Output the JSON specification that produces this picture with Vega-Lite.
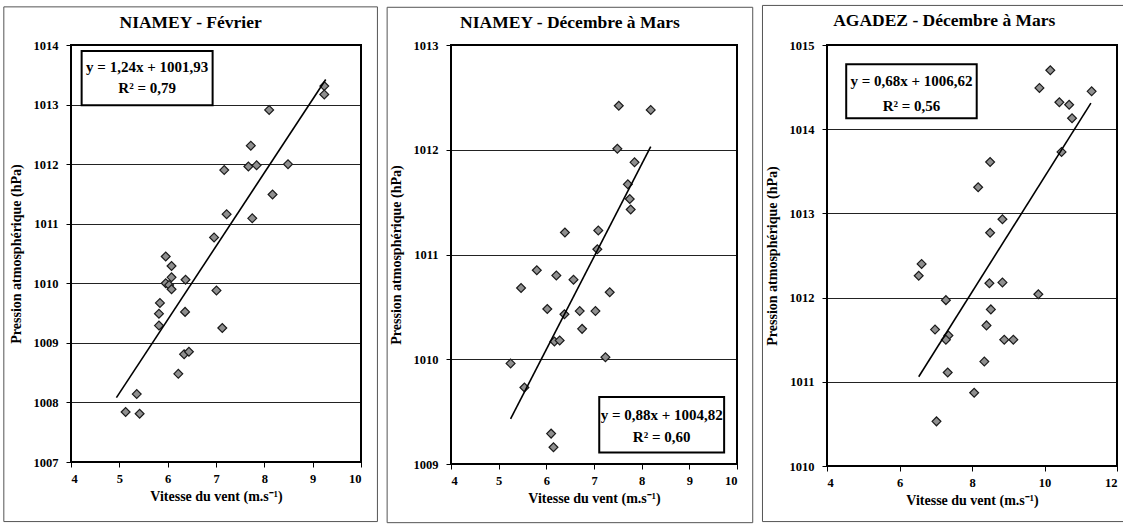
{
  "$schema": "https://vega.github.io/schema/vega-lite/v6.json",
  "background": "white",
  "padding": {"left": 3, "top": 4, "right": 0, "bottom": 0},
  "autosize": {"type": "pad"},
  "bounds": "flush",
  "spacing": 90,
  "config": {
    "font": "Liberation Serif",
    "view": {"stroke": null},
    "axis": {"domain": false, "labelFont": "Liberation Serif", "labelFontSize": 12.5, "labelFontWeight": "bold", "labelColor": "#000", "titleFont": "Liberation Serif", "titleFontSize": 14, "titleFontWeight": "bold", "titleColor": "#000", "tickColor": "#000", "tickSize": 5, "gridColor": "#222", "gridWidth": 1, "gridOpacity": 1},
    "axisX": {"labelPadding": 5, "titlePadding": 5, "grid": false},
    "axisY": {"labelPadding": 8, "titlePadding": 10, "grid": true},
    "title": {"font": "Liberation Serif", "fontSize": 17.5, "fontWeight": "bold", "color": "#000", "anchor": "middle", "frame": "bounds", "offset": -25}
  },
  "datasets": {
    "niamey_fev": [
      {"x": 9.24, "y": 1013.31}, {"x": 9.24, "y": 1013.17}, {"x": 8.10, "y": 1012.91}, {"x": 7.72, "y": 1012.31},
      {"x": 7.67, "y": 1011.96}, {"x": 7.84, "y": 1011.98}, {"x": 8.49, "y": 1012.00}, {"x": 7.17, "y": 1011.90},
      {"x": 8.17, "y": 1011.49}, {"x": 7.22, "y": 1011.16}, {"x": 7.75, "y": 1011.09}, {"x": 6.96, "y": 1010.77},
      {"x": 5.96, "y": 1010.45}, {"x": 6.08, "y": 1010.29}, {"x": 6.08, "y": 1010.10}, {"x": 5.96, "y": 1010.00},
      {"x": 6.03, "y": 1009.97}, {"x": 6.08, "y": 1009.90}, {"x": 6.37, "y": 1010.06}, {"x": 7.01, "y": 1009.88},
      {"x": 5.84, "y": 1009.67}, {"x": 5.82, "y": 1009.49}, {"x": 6.36, "y": 1009.52}, {"x": 5.82, "y": 1009.29},
      {"x": 7.13, "y": 1009.25}, {"x": 6.34, "y": 1008.81}, {"x": 6.44, "y": 1008.85}, {"x": 6.22, "y": 1008.48},
      {"x": 5.36, "y": 1008.14}, {"x": 5.13, "y": 1007.84}, {"x": 5.42, "y": 1007.81}
    ],
    "niamey_dm": [
      {"x": 7.52, "y": 1012.42}, {"x": 8.19, "y": 1012.38}, {"x": 7.49, "y": 1012.01}, {"x": 7.85, "y": 1011.88},
      {"x": 7.71, "y": 1011.67}, {"x": 7.75, "y": 1011.53}, {"x": 7.77, "y": 1011.43}, {"x": 6.39, "y": 1011.21},
      {"x": 7.09, "y": 1011.23}, {"x": 7.07, "y": 1011.05}, {"x": 5.80, "y": 1010.85}, {"x": 6.21, "y": 1010.80},
      {"x": 6.57, "y": 1010.76}, {"x": 5.47, "y": 1010.68}, {"x": 7.33, "y": 1010.64}, {"x": 6.02, "y": 1010.48},
      {"x": 6.70, "y": 1010.46}, {"x": 7.03, "y": 1010.46}, {"x": 6.38, "y": 1010.43}, {"x": 6.75, "y": 1010.29},
      {"x": 6.17, "y": 1010.17}, {"x": 6.28, "y": 1010.18}, {"x": 7.24, "y": 1010.02}, {"x": 5.25, "y": 1009.96},
      {"x": 5.54, "y": 1009.73}, {"x": 6.10, "y": 1009.29}, {"x": 6.15, "y": 1009.16}
    ],
    "agadez_dm": [
      {"x": 10.16, "y": 1014.70}, {"x": 9.86, "y": 1014.49}, {"x": 11.30, "y": 1014.45}, {"x": 10.41, "y": 1014.32},
      {"x": 10.68, "y": 1014.29}, {"x": 10.76, "y": 1014.13}, {"x": 10.47, "y": 1013.73}, {"x": 8.50, "y": 1013.61},
      {"x": 8.17, "y": 1013.31}, {"x": 8.84, "y": 1012.93}, {"x": 8.50, "y": 1012.77}, {"x": 6.61, "y": 1012.40},
      {"x": 6.53, "y": 1012.26}, {"x": 8.48, "y": 1012.17}, {"x": 8.84, "y": 1012.18}, {"x": 9.83, "y": 1012.04},
      {"x": 7.28, "y": 1011.97}, {"x": 8.52, "y": 1011.86}, {"x": 6.98, "y": 1011.62}, {"x": 8.40, "y": 1011.67},
      {"x": 7.35, "y": 1011.55}, {"x": 7.28, "y": 1011.50}, {"x": 8.89, "y": 1011.50}, {"x": 9.14, "y": 1011.50},
      {"x": 8.34, "y": 1011.24}, {"x": 7.33, "y": 1011.11}, {"x": 8.06, "y": 1010.87}, {"x": 7.02, "y": 1010.53}
    ],
    "fit_niamey_fev": [{"x": 4.94, "y": 1008.08}, {"x": 9.27, "y": 1013.42}],
    "fit_niamey_dm": [{"x": 5.25, "y": 1009.43}, {"x": 8.19, "y": 1012.03}],
    "fit_agadez_dm": [{"x": 6.53, "y": 1011.06}, {"x": 11.28, "y": 1014.31}],
    "one": [{"k": 1}]
  },
  "hconcat": [
    {
      "width": 290, "height": 417,
      "title": {"text": "NIAMEY - Février"},
      "layer": [
        {"data": {"name": "one"}, "mark": {"type": "rect", "filled": false, "stroke": "#555", "strokeWidth": 1, "clip": false},
         "encoding": {"x": {"datum": 2.61, "type": "quantitative"}, "x2": {"datum": 10.34}, "y": {"datum": 1014.64, "type": "quantitative"}, "y2": {"datum": 1006.0}}},
        {"data": {"name": "niamey_fev"}, "mark": {"type": "point", "shape": "diamond", "filled": true, "fill": "#8f8f8f", "stroke": "#1a1a1a", "strokeWidth": 1.2, "size": 78, "opacity": 1},
         "encoding": {
           "x": {"field": "x", "type": "quantitative", "scale": {"domain": [4, 10], "nice": false, "zero": false}, "axis": {"title": "Vitesse du vent (m.s⁻¹)", "values": [4, 5, 6, 7, 8, 9, 10]}},
           "y": {"field": "y", "type": "quantitative", "scale": {"domain": [1007, 1014], "nice": false, "zero": false}, "axis": {"title": "Pression atmosphérique (hPa)", "values": [1007, 1008, 1009, 1010, 1011, 1012, 1013, 1014], "format": "d"}}
         }},
        {"data": {"name": "one"}, "mark": {"type": "rect", "filled": false, "stroke": "#000", "strokeWidth": 2, "clip": false},
         "encoding": {"x": {"datum": 4, "type": "quantitative"}, "x2": {"datum": 10}, "y": {"datum": 1014, "type": "quantitative"}, "y2": {"datum": 1007}}},
        {"data": {"name": "fit_niamey_fev"}, "mark": {"type": "line", "color": "#000", "strokeWidth": 1.6},
         "encoding": {"x": {"field": "x", "type": "quantitative"}, "y": {"field": "y", "type": "quantitative"}}},
        {"data": {"name": "one"}, "mark": {"type": "rect", "fill": "white", "stroke": "#000", "strokeWidth": 2},
         "encoding": {"x": {"datum": 4.22, "type": "quantitative"}, "x2": {"datum": 6.93}, "y": {"datum": 1013.90, "type": "quantitative"}, "y2": {"datum": 1012.99}}},
        {"data": {"name": "one"}, "mark": {"type": "text", "text": "y = 1,24x + 1001,93", "font": "Liberation Serif", "fontSize": 15, "fontWeight": "bold", "align": "center", "baseline": "middle", "color": "#000"},
         "encoding": {"x": {"datum": 5.575, "type": "quantitative"}, "y": {"datum": 1013.63, "type": "quantitative"}}},
        {"data": {"name": "one"}, "mark": {"type": "text", "text": "R² = 0,79", "font": "Liberation Serif", "fontSize": 15, "fontWeight": "bold", "align": "center", "baseline": "middle", "color": "#000"},
         "encoding": {"x": {"datum": 5.575, "type": "quantitative"}, "y": {"datum": 1013.28, "type": "quantitative"}}}
      ]
    },
    {
      "width": 286, "height": 419,
      "title": {"text": "NIAMEY - Décembre à Mars"},
      "layer": [
        {"data": {"name": "one"}, "mark": {"type": "rect", "filled": false, "stroke": "#555", "strokeWidth": 1, "clip": false},
         "encoding": {"x": {"datum": 2.66, "type": "quantitative"}, "x2": {"datum": 10.33}, "y": {"datum": 1013.36, "type": "quantitative"}, "y2": {"datum": 1008.44}}},
        {"data": {"name": "niamey_dm"}, "mark": {"type": "point", "shape": "diamond", "filled": true, "fill": "#8f8f8f", "stroke": "#1a1a1a", "strokeWidth": 1.2, "size": 78, "opacity": 1},
         "encoding": {
           "x": {"field": "x", "type": "quantitative", "scale": {"domain": [4, 10], "nice": false, "zero": false}, "axis": {"title": "Vitesse du vent (m.s⁻¹)", "values": [4, 5, 6, 7, 8, 9, 10]}},
           "y": {"field": "y", "type": "quantitative", "scale": {"domain": [1009, 1013], "nice": false, "zero": false}, "axis": {"title": "Pression atmosphérique (hPa)", "values": [1009, 1010, 1011, 1012, 1013], "format": "d"}}
         }},
        {"data": {"name": "one"}, "mark": {"type": "rect", "filled": false, "stroke": "#000", "strokeWidth": 2, "clip": false},
         "encoding": {"x": {"datum": 4, "type": "quantitative"}, "x2": {"datum": 10}, "y": {"datum": 1013, "type": "quantitative"}, "y2": {"datum": 1009}}},
        {"data": {"name": "fit_niamey_dm"}, "mark": {"type": "line", "color": "#000", "strokeWidth": 1.6},
         "encoding": {"x": {"field": "x", "type": "quantitative"}, "y": {"field": "y", "type": "quantitative"}}},
        {"data": {"name": "one"}, "mark": {"type": "rect", "fill": "white", "stroke": "#000", "strokeWidth": 2},
         "encoding": {"x": {"datum": 7.11, "type": "quantitative"}, "x2": {"datum": 9.73}, "y": {"datum": 1009.64, "type": "quantitative"}, "y2": {"datum": 1009.11}}},
        {"data": {"name": "one"}, "mark": {"type": "text", "text": "y = 0,88x + 1004,82", "font": "Liberation Serif", "fontSize": 15, "fontWeight": "bold", "align": "center", "baseline": "middle", "color": "#000"},
         "encoding": {"x": {"datum": 8.42, "type": "quantitative"}, "y": {"datum": 1009.47, "type": "quantitative"}}},
        {"data": {"name": "one"}, "mark": {"type": "text", "text": "R² = 0,60", "font": "Liberation Serif", "fontSize": 15, "fontWeight": "bold", "align": "center", "baseline": "middle", "color": "#000"},
         "encoding": {"x": {"datum": 8.42, "type": "quantitative"}, "y": {"datum": 1009.26, "type": "quantitative"}}}
      ]
    },
    {
      "width": 290, "height": 421,
      "title": {"text": "AGADEZ - Décembre à Mars"},
      "layer": [
        {"data": {"name": "one"}, "mark": {"type": "rect", "filled": false, "stroke": "#555", "strokeWidth": 1, "clip": false},
         "encoding": {"x": {"datum": 2.22, "type": "quantitative"}, "x2": {"datum": 12.25}, "y": {"datum": 1015.47, "type": "quantitative"}, "y2": {"datum": 1009.34}}},
        {"data": {"name": "agadez_dm"}, "mark": {"type": "point", "shape": "diamond", "filled": true, "fill": "#8f8f8f", "stroke": "#1a1a1a", "strokeWidth": 1.2, "size": 78, "opacity": 1},
         "encoding": {
           "x": {"field": "x", "type": "quantitative", "scale": {"domain": [4, 12], "nice": false, "zero": false}, "axis": {"title": "Vitesse du vent (m.s⁻¹)", "values": [4, 6, 8, 10, 12]}},
           "y": {"field": "y", "type": "quantitative", "scale": {"domain": [1010, 1015], "nice": false, "zero": false}, "axis": {"title": "Pression atmosphérique (hPa)", "values": [1010, 1011, 1012, 1013, 1014, 1015], "format": "d"}}
         }},
        {"data": {"name": "one"}, "mark": {"type": "rect", "filled": false, "stroke": "#000", "strokeWidth": 2, "clip": false},
         "encoding": {"x": {"datum": 4, "type": "quantitative"}, "x2": {"datum": 12}, "y": {"datum": 1015, "type": "quantitative"}, "y2": {"datum": 1010}}},
        {"data": {"name": "fit_agadez_dm"}, "mark": {"type": "line", "color": "#000", "strokeWidth": 1.6},
         "encoding": {"x": {"field": "x", "type": "quantitative"}, "y": {"field": "y", "type": "quantitative"}}},
        {"data": {"name": "one"}, "mark": {"type": "rect", "fill": "white", "stroke": "#000", "strokeWidth": 2},
         "encoding": {"x": {"datum": 4.53, "type": "quantitative"}, "x2": {"datum": 8.13}, "y": {"datum": 1014.77, "type": "quantitative"}, "y2": {"datum": 1014.13}}},
        {"data": {"name": "one"}, "mark": {"type": "text", "text": "y = 0,68x + 1006,62", "font": "Liberation Serif", "fontSize": 15, "fontWeight": "bold", "align": "center", "baseline": "middle", "color": "#000"},
         "encoding": {"x": {"datum": 6.33, "type": "quantitative"}, "y": {"datum": 1014.57, "type": "quantitative"}}},
        {"data": {"name": "one"}, "mark": {"type": "text", "text": "R² = 0,56", "font": "Liberation Serif", "fontSize": 15, "fontWeight": "bold", "align": "center", "baseline": "middle", "color": "#000"},
         "encoding": {"x": {"datum": 6.33, "type": "quantitative"}, "y": {"datum": 1014.28, "type": "quantitative"}}}
      ]
    }
  ]
}
